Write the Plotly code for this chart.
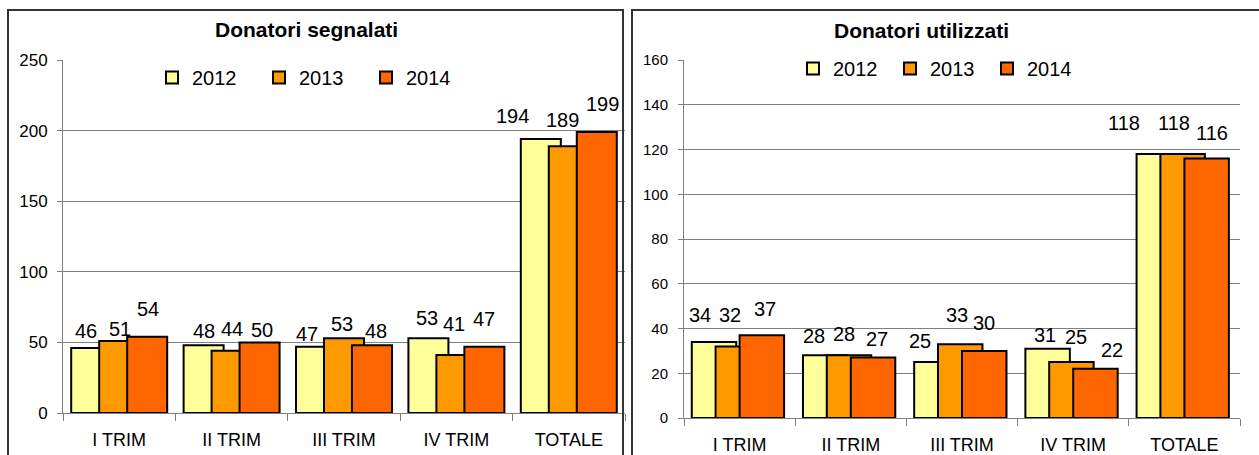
import plotly.graph_objects as go

categories = ["I TRIM", "II TRIM", "III TRIM", "IV TRIM", "TOTALE"]
years = ["2012", "2013", "2014"]
segnalati_2012 = [46, 48, 47, 53, 194]
segnalati_2013 = [51, 44, 53, 41, 189]
segnalati_2014 = [54, 50, 48, 47, 199]
utilizzati_2012 = [34, 28, 25, 31, 118]
utilizzati_2013 = [32, 28, 33, 25, 118]
utilizzati_2014 = [37, 27, 30, 22, 116]
title_left = "Donatori segnalati"
title_right = "Donatori utilizzati"

colors = ["#FFFF99", "#FF9900", "#FF6600"]
W, H = 1259, 455
FONT = "Arial, Liberation Sans, sans-serif"

fig = go.Figure()

left_series = [segnalati_2012, segnalati_2013, segnalati_2014]
right_series = [utilizzati_2012, utilizzati_2013, utilizzati_2014]
left_offsets = [-0.427, -0.178, 0.071]
left_width = 0.356
right_offsets = [-0.43, -0.216, 0.0]
right_width = 0.40

for i, (yr, vals) in enumerate(zip(years, left_series)):
    fig.add_trace(go.Bar(
        x=categories, y=vals, name=yr, xaxis="x", yaxis="y",
        offset=left_offsets[i], width=left_width,
        marker=dict(color=colors[i], line=dict(color="black", width=2)),
        legend="legend",
    ))
for i, (yr, vals) in enumerate(zip(years, right_series)):
    fig.add_trace(go.Bar(
        x=categories, y=vals, name=yr, xaxis="x2", yaxis="y2",
        offset=right_offsets[i], width=right_width,
        marker=dict(color=colors[i], line=dict(color="black", width=2)),
        legend="legend2",
    ))

grid = "#808080"
xcommon = dict(type="category", showline=True, linecolor=grid, linewidth=1,
               ticks="outside", tickson="boundaries", ticklen=7, tickcolor=grid,
               ticklabelstandoff=10, automargin=False,
               tickfont=dict(family=FONT, size=18, color="black"), showgrid=False)
ycommon = dict(showline=True, linecolor=grid, linewidth=1, showgrid=True,
               gridcolor=grid, gridwidth=1, ticks="outside", ticklen=5,
               tickcolor=grid, zeroline=False, automargin=False)

fig.update_layout(
    width=W, height=H, margin=dict(l=0, r=0, t=0, b=0, pad=0, autoexpand=False),
    paper_bgcolor="white", plot_bgcolor="white",
    barmode="overlay", font=dict(family=FONT, color="black"),
    xaxis=dict(domain=[63 / W, 625 / W], anchor="y", **xcommon),
    yaxis=dict(domain=[42 / H, 395 / H], anchor="x", range=[0, 250], dtick=50,
               ticklabelstandoff=6,
               tickfont=dict(family=FONT, size=17, color="black"), **ycommon),
    xaxis2=dict(domain=[684 / W, 1240 / W], anchor="y2", **xcommon),
    yaxis2=dict(domain=[37 / H, 395 / H], anchor="x2", range=[0, 160], dtick=20,
                ticklabelstandoff=7,
                tickfont=dict(family=FONT, size=15, color="black"), **ycommon),
    legend=dict(orientation="h", x=152 / W, xanchor="left", y=1 - 58 / H, yanchor="top",
                bgcolor="white", font=dict(family=FONT, size=20, color="black"),
                entrywidth=62, entrywidthmode="pixels", traceorder="normal"),
    legend2=dict(orientation="h", x=793 / W, xanchor="left", y=1 - 49 / H, yanchor="top",
                 bgcolor="white", font=dict(family=FONT, size=20, color="black"),
                 entrywidth=52, entrywidthmode="pixels", traceorder="normal"),
    shapes=[
        dict(type="rect", xref="paper", yref="paper", x0=8 / W, x1=623 / W, y0=-0.05, y1=1 - 10 / H,
             line=dict(color="#333333", width=2), layer="above"),
        dict(type="rect", xref="paper", yref="paper", x0=632 / W, x1=1.05, y0=-0.05, y1=1 - 10 / H,
             line=dict(color="#333333", width=2), layer="above"),
    ],
)

annotations = [
    dict(text="<b>" + title_left + "</b>", x=306 / W, y=1 - 30 / H, xref="paper", yref="paper",
         xanchor="center", yanchor="middle", showarrow=False,
         font=dict(family=FONT, size=21, color="black")),
    dict(text="<b>" + title_right + "</b>", x=921 / W, y=1 - 31 / H, xref="paper", yref="paper",
         xanchor="center", yanchor="middle", showarrow=False,
         font=dict(family=FONT, size=21, color="black")),
]

# value labels: pixel nudges (x from category centre, gap above bar top)
left_label_dx = [[-33, -28, -37, -29, -56], [1, 0, -2, -2, -6], [29, 30, 32, 28, 34]]
left_label_gap = [[9, 6, 5, 12, 15], [4, 14, 6, 23, 18], [20, 4, 6, 20, 20]]
right_label_dx = [[-40, -37, -42, -28, -60], [-10, -7, -5, 3, -10], [25, 26, 22, 39, 28]]
right_label_gap = [[19, 11, 13, 6, 23], [23, 13, 21, 17, 23], [18, 11, 20, 11, 17]]

for series, dxs, gaps, xr, yr in [(left_series, left_label_dx, left_label_gap, "x", "y"),
                                  (right_series, right_label_dx, right_label_gap, "x2", "y2")]:
    for s, vals in enumerate(series):
        for k, v in enumerate(vals):
            annotations.append(dict(
                x=categories[k], y=v, xref=xr, yref=yr, text=str(v), showarrow=False,
                xanchor="center", yanchor="bottom", xshift=dxs[s][k], yshift=gaps[s][k] - 5,
                font=dict(family=FONT, size=20, color="black")))

fig.update_layout(annotations=annotations)

post = (
    "document.documentElement.style.margin='0';"
    "document.documentElement.style.overflow='hidden';"
    "document.body.style.margin='0';"
    "document.body.style.overflow='hidden';"
)

fig.write_html("out.html", config={"displayModeBar": False}, post_script=post)
